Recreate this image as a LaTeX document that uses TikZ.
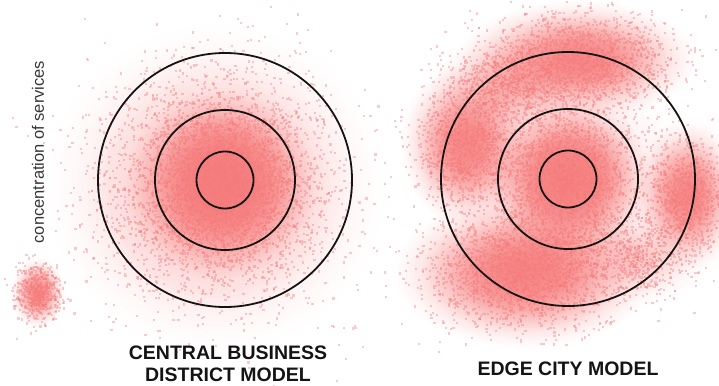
\documentclass[tikz,border=0pt]{standalone}
\usepackage{fontspec}
\setmainfont{Liberation Sans}
\definecolor{dotred}{RGB}{245,122,122}
\definecolor{inkgray}{RGB}{55,55,55}
\newcommand\blob[5]{%
  \foreach \k in {1,...,#5}{%
    \pgfmathsetmacro\myr{sqrt(-2*ln(0.0002+0.9996*rnd))}%
    \pgfmathsetmacro\myang{360*rnd}%
    \pgfmathsetmacro\px{#1+#3*\myr*cos(\myang)-1.1}%
    \pgfmathsetmacro\py{-(#2+#4*\myr*sin(\myang))-1.1}%
    \pgfpathrectangle{\pgfpoint{\px pt}{\py pt}}{\pgfpoint{2.2pt}{2.2pt}}%
    \pgfusepath{fill}%
  }}
% glow: centre x, centre y, sigma x, sigma y, strength (optical depth at centre)
\newcommand\glow[5]{%
  \foreach \k in {1,...,34}{%
    \pgfmathsetmacro\ga{1-exp(-#5*(exp(-((0.08*(\k-1))^2)/2)-exp(-((0.08*\k)^2)/2)))}%
    \pgfmathsetmacro\gf{0.08*\k}%
    \fill[dotred, fill opacity=\ga]
      (#1,#2) ellipse[x radius={#3*\gf}, y radius={#4*\gf}];
  }}
\begin{document}
\begin{tikzpicture}[x=1pt,y=-1pt,
  ring/.style={circle, draw=black!92, line width=1.8pt, inner sep=0pt},
  title/.style={font=\fontsize{19.5}{23}\selectfont\bfseries, text=black!92, anchor=base, inner sep=0pt},
  axislabel/.style={font=\fontsize{16.5}{20}\selectfont, text=inkgray, rotate=90, inner sep=0pt}]
\useasboundingbox (0,0) rectangle (719,385);
% smooth density under the dots
\glow{38}{293}{10}{13}{2}
\glow{224}{183}{35}{35}{3}
\glow{216}{188}{62}{60}{1.0}
\glow{568}{179}{30}{30}{3}
\glow{568}{179}{45}{45}{0.5}
\glow{578}{60}{44}{22}{2.2}
\glow{505}{88}{28}{20}{0.8}
\glow{466}{145}{24}{30}{2.2}
\glow{688}{196}{20}{28}{2.2}
\glow{525}{272}{48}{28}{2.5}
\glow{640}{258}{25}{18}{0.5}
\pgfmathsetseed{4242}
\begin{pgfscope}
\pgfsetfillcolor{dotred}
\pgfsetfillopacity{0.4}
% legend blob
\blob{38}{293}{11}{14}{500}
% central business district
\blob{225}{182}{30}{30}{1800}
\blob{216}{188}{62}{60}{3000}
% edge city
\blob{568}{179}{30}{30}{1400}
\blob{568}{179}{50}{50}{900}
\blob{578}{62}{45}{24}{1600}
\blob{505}{88}{28}{22}{600}
\blob{466}{146}{24}{30}{1000}
\blob{686}{197}{20}{28}{900}
\blob{525}{271}{48}{28}{2000}
\blob{640}{258}{25}{20}{400}
\end{pgfscope}
% rings
\node[ring, minimum size=57pt]  (cbdInner)  at (225,180) {};
\node[ring, minimum size=140pt] (cbdMiddle) at (225,180) {};
\node[ring, minimum size=254pt] (cbdOuter)  at (225,180) {};
\node[ring, minimum size=57pt]  (ecInner)   at (568,179) {};
\node[ring, minimum size=140pt] (ecMiddle)  at (568,179) {};
\node[ring, minimum size=254pt] (ecOuter)   at (568,179) {};
% texts
\node[axislabel] (axis) at (38,152) {concentration of services};
\node[title] (cbdTitleA) at (228,359) {CENTRAL BUSINESS};
\node[title] (cbdTitleB) at (228,381) {DISTRICT MODEL};
\node[title] (ecTitle) at (568,375) {EDGE CITY MODEL};
\end{tikzpicture}
\end{document}
